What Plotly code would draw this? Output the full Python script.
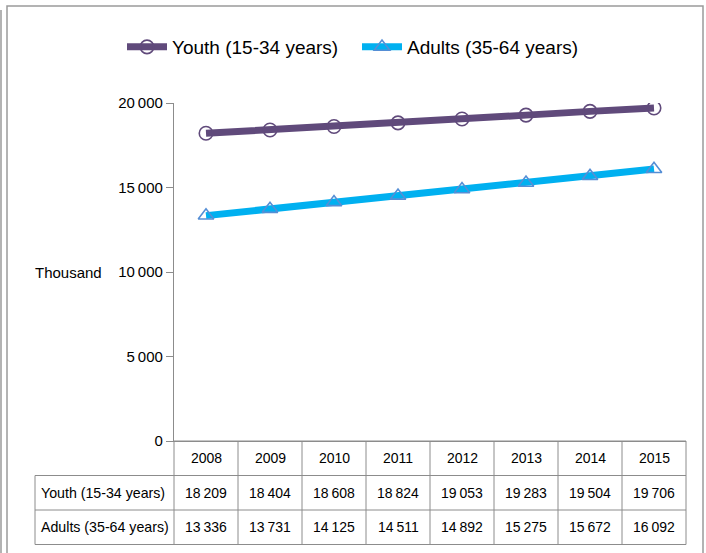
import plotly.graph_objects as go

# Population by age group, thousands
years = ["2008", "2009", "2010", "2011", "2012", "2013", "2014", "2015"]
youth = [18209, 18404, 18608, 18824, 19053, 19283, 19504, 19706]
adults = [13336, 13731, 14125, 14511, 14892, 15275, 15672, 16092]
series_names = ["Youth (15-34 years)", "Adults (35-64 years)"]
table_labels = ["Youth (15-34 years)", "Adults (35-64 years)"]
y_ticks = [0, 5000, 10000, 15000, 20000]

FONT = "Liberation Sans, Arial, sans-serif"
GRID = "#8c8c8c"


def fmt(v):
    s = f"{v:,}"
    return s.replace(",", "\u2009")


fig = go.Figure()
fig.add_trace(go.Scatter(
    x=years, y=youth, name=series_names[0], mode="lines+markers",
    line=dict(color="#604A7B", width=7),
    marker=dict(symbol="circle-open", size=13.5, color="#604A7B",
                line=dict(width=1.6, color="#604A7B")),
))
fig.add_trace(go.Scatter(
    x=years, y=adults, name=series_names[1], mode="lines+markers",
    line=dict(color="#00B0F0", width=7),
    marker=dict(symbol="triangle-up-open", size=13.5, color="#558ED5",
                line=dict(width=1.6, color="#558ED5")),
))

# Geometry of the data table under the plot (paper coordinates)
W, H = 706, 553
L, R, T, B = 174, 20, 103, 112
pw, ph = W - L - R, H - T - B
row_h = 34.5 / ph
label_left = (35 - L) / pw
n = len(years)
rows_y = [0, -row_h, -2 * row_h, -3 * row_h]

shapes = []
line_style = dict(color=GRID, width=1)
# horizontal rules
for k, yv in enumerate(rows_y):
    x0 = 0 if k == 0 else label_left
    shapes.append(dict(type="line", xref="paper", yref="paper",
                       x0=x0, x1=1, y0=yv, y1=yv, line=line_style))
# vertical rules between year columns
for k in range(n + 1):
    xv = k / n
    shapes.append(dict(type="line", xref="paper", yref="paper",
                       x0=xv, x1=xv, y0=rows_y[0], y1=rows_y[3], line=line_style))
# left edge of the label column
shapes.append(dict(type="line", xref="paper", yref="paper",
                   x0=label_left, x1=label_left, y0=rows_y[1], y1=rows_y[3],
                   line=line_style))

# outer frame
fx0, fx1 = (7 - L) / pw, (703 - L) / pw
fy0, fy1 = (H - B - 570) / ph, (H - B - 6) / ph
shapes.append(dict(type="rect", xref="paper", yref="paper",
                   x0=fx0, x1=fx1, y0=fy0, y1=fy1,
                   line=dict(color="#9a9a9a", width=1.5)))
sx = (1 - L) / pw
shapes.append(dict(type="line", xref="paper", yref="paper",
                   x0=sx, x1=sx, y0=fy0, y1=(H - B - 10) / ph,
                   line=dict(color="#9a9a9a", width=1.5)))

annotations = []
cell_font = dict(family=FONT, size=14, color="#000000")
for i, yr in enumerate(years):
    xc = (i + 0.5) / n
    annotations.append(dict(text=yr, xref="paper", yref="paper", x=xc,
                            y=(rows_y[0] + rows_y[1]) / 2, showarrow=False,
                            font=cell_font, xanchor="center", yanchor="middle"))
    annotations.append(dict(text=fmt(youth[i]), xref="paper", yref="paper", x=xc,
                            y=(rows_y[1] + rows_y[2]) / 2, showarrow=False,
                            font=cell_font, xanchor="center", yanchor="middle"))
    annotations.append(dict(text=fmt(adults[i]), xref="paper", yref="paper", x=xc,
                            y=(rows_y[2] + rows_y[3]) / 2, showarrow=False,
                            font=cell_font, xanchor="center", yanchor="middle"))
for k, lab in enumerate(table_labels):
    annotations.append(dict(text=lab, xref="paper", yref="paper",
                            x=label_left + 4 / pw,
                            y=(rows_y[k + 1] + rows_y[k + 2]) / 2, showarrow=False,
                            font=dict(family=FONT, size=14.2, color="#000000"),
                            xanchor="left", yanchor="middle"))
annotations.append(dict(text="Thousand", xref="paper", yref="paper",
                        x=(104 - L) / pw, y=0.5, showarrow=False,
                        font=dict(family=FONT, size=15, color="#000000"),
                        xanchor="right", yanchor="middle"))

fig.update_layout(
    width=W, height=H,
    margin=dict(l=L, r=R, t=T, b=B),
    paper_bgcolor="white", plot_bgcolor="white",
    font=dict(family=FONT, color="#000000"),
    showlegend=True,
    legend=dict(orientation="h", x=(357 - L) / pw, y=(H - B - 47) / ph,
                xanchor="center", yanchor="middle",
                font=dict(family=FONT, size=19, color="#000000"),
                itemwidth=40, entrywidth=180, entrywidthmode="pixels",
                bgcolor="rgba(0,0,0,0)"),
    xaxis=dict(type="category", range=[-0.5, n - 0.5], showticklabels=False,
               showgrid=False, zeroline=False, showline=True, linecolor=GRID,
               linewidth=1, ticks="", fixedrange=True),
    yaxis=dict(range=[0, 20000], tickvals=y_ticks,
               ticktext=[fmt(v) for v in y_ticks], showgrid=False,
               zeroline=False, showline=True, linecolor=GRID, linewidth=1.2,
               ticks="outside", ticklen=7, tickcolor=GRID, tickwidth=1.2,
               tickfont=dict(family=FONT, size=15, color="#000000"),
               fixedrange=True),
    shapes=shapes,
    annotations=annotations,
)

fig.write_html("out.html")
